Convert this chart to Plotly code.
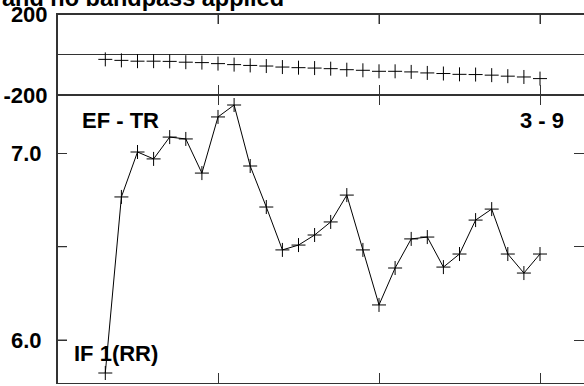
import plotly.graph_objects as go
from plotly.subplots import make_subplots

# data
x_index = list(range(3, 31))
top_values = [-24, -29, -33, -33, -34, -38, -40, -45, -50, -54, -57, -62, -65, -67,
              -70, -75, -78, -83, -83, -86, -91, -94, -98, -99, -102, -107, -111, -119]
bottom_values = [5.823, 6.767, 7.008, 6.971, 7.088, 7.078, 6.895, 7.196, 7.260, 6.933,
                 6.713, 6.483, 6.509, 6.563, 6.633, 6.777, 6.483, 6.188, 6.386, 6.542,
                 6.552, 6.391, 6.461, 6.643, 6.702, 6.461, 6.359, 6.461]
x_ticks = [0, 10, 20, 30]
top_ticks = [-200, 0, 200]
top_ticktext = ["-200", "", "200"]
bottom_ticks = [6.0, 6.5, 7.0]
bottom_ticktext = ["6.0", "", "7.0"]

W, H = 584, 386
L, R, T, B = 57, 0, 14, 3
PW, PH = W - L - R, H - T - B
split = (383 - 95) / PH

FONT = "Liberation Sans, Arial, sans-serif"
INK = "#000000"
AX = "#333333"
TICKLEN = 10

fig = make_subplots(rows=2, cols=1, shared_xaxes=False, vertical_spacing=0,
                    row_heights=[1 - split, split])

marker = dict(symbol="cross-thin-open", size=10, color=INK, line=dict(color=INK, width=1))
fig.add_trace(go.Scatter(x=x_index, y=top_values, mode="markers", marker=marker,
                         showlegend=False), row=1, col=1)
fig.add_trace(go.Scatter(x=x_index, y=bottom_values, mode="lines+markers",
                         line=dict(color=INK, width=1), marker=marker,
                         showlegend=False), row=2, col=1)

xcommon = dict(range=[0, (584 - 57) / 16.1], tickvals=x_ticks, showticklabels=False,
               ticks="inside", ticklen=TICKLEN, tickcolor=AX, showline=True, linecolor=AX,
               linewidth=1, mirror="ticks", showgrid=False, zeroline=False,
               automargin=False)
fig.update_xaxes(**xcommon, row=1, col=1)
fig.update_xaxes(**xcommon, row=2, col=1)

ycommon = dict(ticks="inside", ticklen=TICKLEN, tickcolor=AX, showline=True, linecolor=AX,
               linewidth=1, mirror="ticks", showgrid=False, automargin=False,
               tickfont=dict(family=FONT, size=22, color=INK, weight="bold"))
fig.update_yaxes(**ycommon, range=[-200, 200], tickvals=top_ticks, ticktext=top_ticktext,
                 zeroline=True, zerolinecolor=AX, zerolinewidth=1,
                 ticklabelstandoff=4, row=1, col=1)
fig.update_yaxes(**ycommon, range=[6.0 - (383 - 340) / 186.5, 7.0 + (153.5 - 95) / 186.5],
                 tickvals=bottom_ticks, ticktext=bottom_ticktext, zeroline=False,
                 ticklabelstandoff=10, row=2, col=1)

# frame lines on the left and top edges (half-pixel offset keeps them crisp)
frame = dict(type="line", line=dict(color=AX, width=1), layer="above")
fig.add_shape(**frame, xref="paper", yref="paper", xsizemode="pixel", xanchor=0,
              x0=0.5, x1=0.5, y0=0, y1=1)
fig.add_shape(**frame, xref="paper", yref="paper", ysizemode="pixel", yanchor=1,
              x0=0, x1=1, y0=-0.5, y1=-0.5)
# inward ticks on the top edge of the upper panel
for xv in x_ticks[1:]:
    fig.add_shape(**frame, xref="x", yref="y domain", x0=xv, x1=xv,
                  ysizemode="pixel", yanchor=1, y0=0, y1=-TICKLEN)
# inward ticks on the left edge
for yv in top_ticks:
    fig.add_shape(**frame, xref="x domain", yref="y", y0=yv, y1=yv,
                  xsizemode="pixel", xanchor=0, x0=0, x1=TICKLEN)
for yv in bottom_ticks:
    fig.add_shape(**frame, xref="x2 domain", yref="y2", y0=yv, y1=yv,
                  xsizemode="pixel", xanchor=0, x0=0, x1=TICKLEN)


def px(xp):
    return (xp - L) / PW


def py(yp):
    return (H - B - yp) / PH


labels = [("EF - TR", 80, 120, "left"), ("3 - 9", 566, 120, "right"),
          ("IF 1(RR)", 72, 353, "left")]
for text, xp, yp, anchor in labels:
    fig.add_annotation(text=text, x=px(xp), y=py(yp), xref="paper", yref="paper",
                       xanchor=anchor, yanchor="middle", showarrow=False,
                       font=dict(family=FONT, size=22, color=INK, weight="bold"))

fig.add_annotation(text="and no bandpass applied", x=px(0), y=py(13), xref="paper",
                   yref="paper", xanchor="left", yanchor="bottom", showarrow=False,
                   font=dict(family=FONT, size=23.5, color=INK, weight="bold"))

fig.update_layout(template="none", width=W, height=H, margin=dict(l=L, r=R, t=T, b=B),
                  paper_bgcolor="white", plot_bgcolor="white")

fig.write_html("out.html", config={"displayModeBar": False, "staticPlot": True},
               post_script="document.body.style.margin='0';"
                           "document.body.style.padding='0';"
                           "document.body.style.overflow='hidden';")
